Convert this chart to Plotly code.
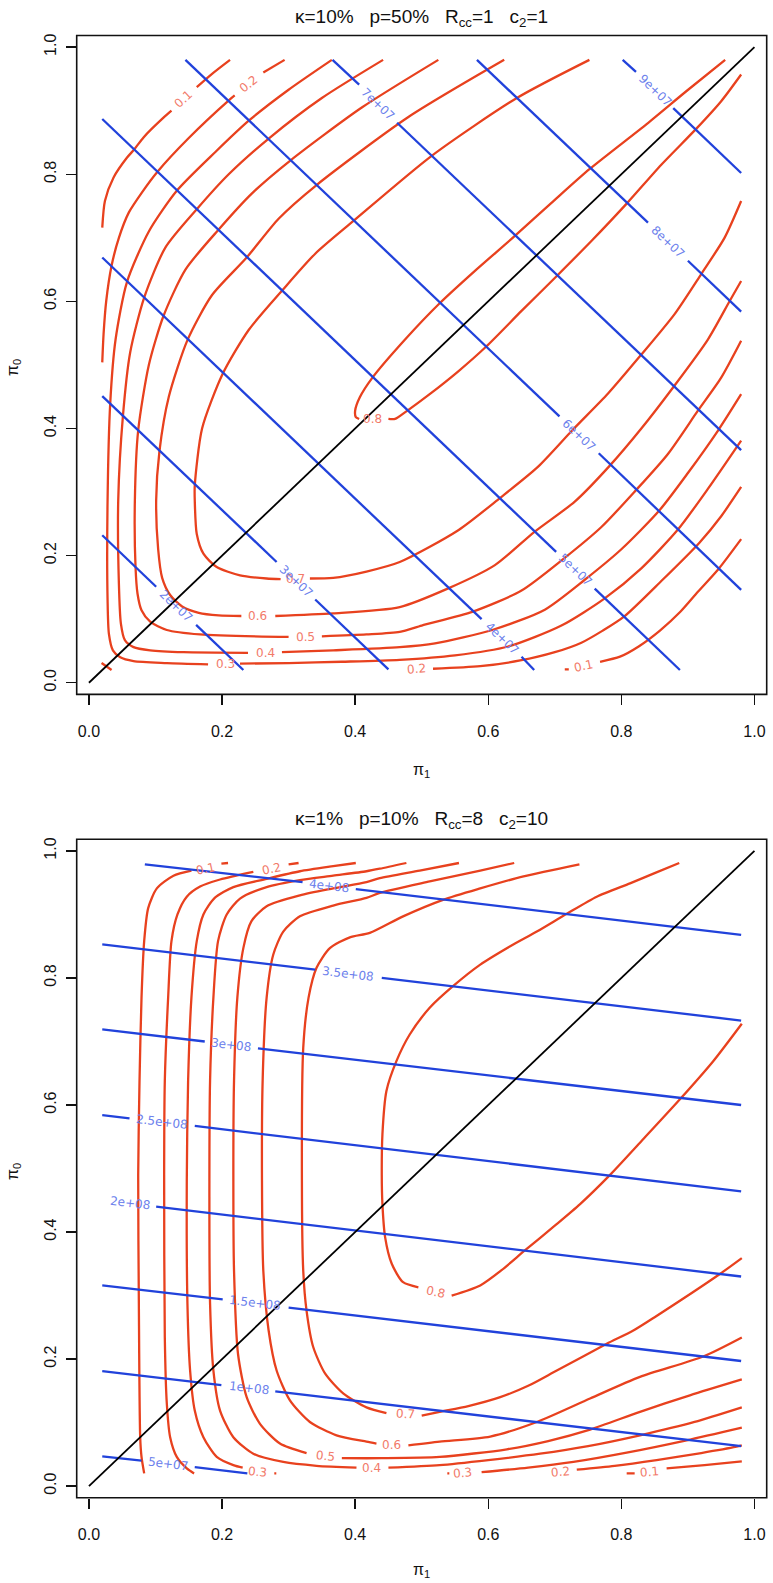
import plotly.graph_objects as go

# ---------------- data ----------------
TICKS = [0.0, 0.2, 0.4, 0.6, 0.8, 1.0]
TICK_TEXT = ["0.0", "0.2", "0.4", "0.6", "0.8", "1.0"]
DIAG_X = [0.0, 1.0]
DIAG_Y = [0.0, 1.0]

A_TITLE = "κ=10%\u00a0\u00a0\u00a0p=50%\u00a0\u00a0\u00a0R<sub>cc</sub>=1\u00a0\u00a0\u00a0c<sub>2</sub>=1"
B_TITLE = "κ=1%\u00a0\u00a0\u00a0p=10%\u00a0\u00a0\u00a0R<sub>cc</sub>=8\u00a0\u00a0\u00a0c<sub>2</sub>=10"
X_LABEL = "π<sub>1</sub>"
Y_LABEL = "π<sub>0</sub>"

# ---- panel A (top): red contour pieces (pi1, pi0) ----
A_RED_01 = [
    [(0.020, 0.716), (0.024, 0.758), (0.037, 0.795), (0.057, 0.826), (0.068, 0.839), (0.082, 0.858), (0.112, 0.889), (0.124, 0.900)],
    [(0.162, 0.937), (0.185, 0.958), (0.212, 0.980)],
    [(0.715, 0.021), (0.721, 0.021)],
    [(0.768, 0.033), (0.798, 0.041), (0.826, 0.057), (0.858, 0.082), (0.889, 0.112), (0.915, 0.143), (0.946, 0.179), (0.980, 0.226)],
]
A_RED_02 = [
    [(0.020, 0.504), (0.022, 0.549), (0.026, 0.601), (0.034, 0.656), (0.045, 0.700), (0.060, 0.740), (0.080, 0.772), (0.103, 0.804), (0.150, 0.857), (0.211, 0.917), (0.219, 0.924)],
    [(0.262, 0.960), (0.294, 0.980)],
    [(0.517, 0.022), (0.588, 0.026), (0.648, 0.035), (0.700, 0.048), (0.740, 0.063), (0.772, 0.082), (0.804, 0.104), (0.860, 0.160), (0.917, 0.220), (0.950, 0.262), (0.980, 0.308)],
]
A_RED_03 = [
    [(0.365, 0.980), (0.300, 0.933), (0.241, 0.885), (0.190, 0.835), (0.132, 0.774), (0.090, 0.710), (0.057, 0.630), (0.040, 0.540), (0.032, 0.440), (0.028, 0.287), (0.028, 0.130), (0.030, 0.077), (0.036, 0.051), (0.047, 0.040), (0.067, 0.034), (0.117, 0.031), (0.179, 0.029)],
    [(0.227, 0.030), (0.300, 0.031), (0.380, 0.033), (0.467, 0.036), (0.550, 0.043), (0.630, 0.057), (0.710, 0.090), (0.774, 0.132), (0.830, 0.180), (0.885, 0.241), (0.930, 0.305), (0.980, 0.381)],
    [(0.019, 0.031), (0.034, 0.020)],
]
A_RED_04 = [
    [(0.442, 0.980), (0.350, 0.920), (0.271, 0.857), (0.210, 0.800), (0.162, 0.745), (0.115, 0.685), (0.083, 0.606), (0.062, 0.520), (0.051, 0.419), (0.044, 0.287), (0.045, 0.156), (0.048, 0.093), (0.054, 0.067), (0.067, 0.056), (0.092, 0.051), (0.142, 0.048), (0.239, 0.047)],
    [(0.290, 0.048), (0.367, 0.051), (0.467, 0.056), (0.520, 0.062), (0.606, 0.083), (0.685, 0.115), (0.745, 0.162), (0.800, 0.210), (0.857, 0.271), (0.900, 0.330), (0.946, 0.398), (0.980, 0.454)],
]
A_RED_05 = [
    [(0.525, 0.980), (0.410, 0.905), (0.303, 0.822), (0.245, 0.770), (0.194, 0.712), (0.145, 0.650), (0.112, 0.577), (0.090, 0.500), (0.074, 0.397), (0.069, 0.287), (0.070, 0.182), (0.073, 0.140), (0.079, 0.114), (0.092, 0.096), (0.117, 0.083), (0.167, 0.076), (0.300, 0.072)],
    [(0.350, 0.073), (0.417, 0.076), (0.467, 0.080), (0.500, 0.090), (0.577, 0.112), (0.650, 0.145), (0.712, 0.194), (0.770, 0.245), (0.822, 0.303), (0.870, 0.360), (0.915, 0.428), (0.950, 0.480), (0.980, 0.538)],
]
A_RED_06 = [
    [(0.624, 0.980), (0.480, 0.890), (0.342, 0.783), (0.285, 0.730), (0.237, 0.669), (0.185, 0.610), (0.148, 0.539), (0.120, 0.450), (0.106, 0.365), (0.101, 0.287), (0.104, 0.210), (0.110, 0.165), (0.122, 0.138), (0.140, 0.120), (0.165, 0.110), (0.195, 0.106), (0.229, 0.105)],
    [(0.280, 0.105), (0.367, 0.109), (0.467, 0.119), (0.539, 0.148), (0.610, 0.185), (0.669, 0.237), (0.730, 0.285), (0.783, 0.342), (0.830, 0.400), (0.878, 0.465), (0.930, 0.540), (0.963, 0.601), (0.980, 0.632)],
]
A_RED_07 = [
    [(0.752, 0.980), (0.643, 0.920), (0.515, 0.829), (0.398, 0.727), (0.340, 0.675), (0.291, 0.618), (0.240, 0.555), (0.201, 0.486), (0.170, 0.400), (0.159, 0.310), (0.159, 0.287), (0.162, 0.234), (0.172, 0.203), (0.192, 0.182), (0.227, 0.169), (0.267, 0.164), (0.288, 0.163)],
    [(0.332, 0.164), (0.367, 0.165), (0.417, 0.175), (0.467, 0.190), (0.555, 0.240), (0.618, 0.291), (0.675, 0.340), (0.727, 0.398), (0.780, 0.455), (0.829, 0.515), (0.880, 0.580), (0.920, 0.643), (0.955, 0.700), (0.980, 0.758)],
]
A_RED_08 = [
    [(0.956, 0.980), (0.898, 0.931), (0.838, 0.879), (0.752, 0.808), (0.695, 0.755), (0.640, 0.703), (0.580, 0.648), (0.527, 0.597), (0.475, 0.540), (0.426, 0.480), (0.407, 0.449), (0.400, 0.428), (0.401, 0.418), (0.406, 0.415)],
    [(0.450, 0.415), (0.460, 0.415), (0.477, 0.427), (0.512, 0.454), (0.555, 0.490), (0.597, 0.529), (0.650, 0.585), (0.703, 0.640), (0.755, 0.695), (0.809, 0.755), (0.860, 0.815), (0.912, 0.871), (0.950, 0.915), (0.980, 0.957)],
]
A_RED_LABELS = [("0.1", 0.142, 0.918), ("0.2", 0.240, 0.942), ("0.1", 0.743, 0.026), ("0.2", 0.492, 0.021),
                 ("0.3", 0.205, 0.029), ("0.4", 0.265, 0.047), ("0.5", 0.325, 0.072), ("0.6", 0.254, 0.105),
                 ("0.7", 0.310, 0.163), ("0.8", 0.426, 0.415)]
A_RED_ANGLES = [-43, -38, -12, -4, 0, 0, -2, 0, 0, 0]

# ---- panel A blue contour pieces ----
A_BLUE_2E07 = [[(0.020, 0.232), (0.101, 0.151)], [(0.161, 0.091), (0.232, 0.020)]]
A_BLUE_3E07 = [[(0.020, 0.451), (0.282, 0.190)], [(0.340, 0.131), (0.450, 0.021)]]
A_BLUE_4E07 = [[(0.020, 0.669), (0.590, 0.100)], [(0.650, 0.041), (0.669, 0.020)]]
A_BLUE_5E07 = [[(0.020, 0.887), (0.702, 0.206)], [(0.760, 0.148), (0.888, 0.020)]]
A_BLUE_6E07 = [[(0.145, 0.980), (0.707, 0.419)], [(0.766, 0.361), (0.980, 0.146)]]
A_BLUE_7E07 = [[(0.366, 0.980), (0.406, 0.941)], [(0.463, 0.881), (0.980, 0.366)]]
A_BLUE_8E07 = [[(0.583, 0.980), (0.840, 0.724)], [(0.900, 0.664), (0.980, 0.584)]]
A_BLUE_9E07 = [[(0.802, 0.980), (0.822, 0.961)], [(0.878, 0.904), (0.980, 0.802)]]
A_BLUE_LABELS = [("2e+07", 0.131, 0.121), ("3e+07", 0.311, 0.160), ("4e+07", 0.620, 0.070), ("5e+07", 0.731, 0.177),
                 ("6e+07", 0.736, 0.390), ("7e+07", 0.434, 0.911), ("8e+07", 0.870, 0.694), ("9e+07", 0.850, 0.932)]
A_BLUE_ANGLE = 43.7

# ---- panel B (bottom): red contour pieces ----
B_RED_01 = [
    [(0.083, 0.020), (0.079, 0.046), (0.077, 0.077), (0.075, 0.287), (0.074, 0.490), (0.076, 0.638), (0.079, 0.769), (0.083, 0.858), (0.089, 0.910), (0.102, 0.941), (0.127, 0.961), (0.154, 0.969)],
    [(0.199, 0.980), (0.209, 0.981)],
    [(0.808, 0.020), (0.820, 0.020)],
    [(0.868, 0.028), (0.925, 0.033), (0.981, 0.039)],
]
B_RED_02 = [
    [(0.158, 0.020), (0.147, 0.028), (0.132, 0.046), (0.122, 0.077), (0.117, 0.130), (0.114, 0.234), (0.113, 0.490), (0.114, 0.638), (0.119, 0.769), (0.124, 0.858), (0.133, 0.900), (0.147, 0.928), (0.167, 0.944), (0.197, 0.955), (0.247, 0.967)],
    [(0.300, 0.979), (0.315, 0.981)],
    [(0.733, 0.026), (0.790, 0.032), (0.853, 0.041), (0.920, 0.052), (0.973, 0.062), (0.981, 0.064)],
]
B_RED_03 = [
    [(0.231, 0.029), (0.217, 0.033), (0.192, 0.046), (0.172, 0.077), (0.159, 0.119), (0.152, 0.182), (0.148, 0.287), (0.147, 0.481), (0.149, 0.638), (0.154, 0.769), (0.162, 0.858), (0.172, 0.900), (0.189, 0.926), (0.217, 0.943), (0.267, 0.956), (0.317, 0.968), (0.367, 0.976), (0.401, 0.981)],
    [(0.2785, 0.020), (0.2815, 0.020)],
    [(0.5385, 0.020), (0.5415, 0.020)],
    [(0.590, 0.022), (0.660, 0.029), (0.728, 0.038), (0.810, 0.053), (0.898, 0.072), (0.981, 0.092)],
]
B_RED_04 = [
    [(0.477, 0.981), (0.437, 0.972), (0.417, 0.968), (0.367, 0.961), (0.317, 0.954), (0.267, 0.943), (0.227, 0.925), (0.207, 0.900), (0.194, 0.858), (0.187, 0.769), (0.182, 0.638), (0.181, 0.481), (0.182, 0.287), (0.187, 0.182), (0.197, 0.119), (0.217, 0.077), (0.247, 0.051), (0.292, 0.038), (0.342, 0.032), (0.402, 0.029)],
    [(0.450, 0.029), (0.527, 0.033), (0.600, 0.041), (0.678, 0.051), (0.750, 0.063), (0.828, 0.080), (0.910, 0.101), (0.981, 0.124)],
]
B_RED_05 = [
    [(0.556, 0.981), (0.497, 0.969), (0.437, 0.957), (0.417, 0.951), (0.367, 0.941), (0.317, 0.930), (0.267, 0.913), (0.244, 0.889), (0.232, 0.847), (0.223, 0.769), (0.218, 0.638), (0.217, 0.481), (0.218, 0.339), (0.224, 0.208), (0.237, 0.140), (0.257, 0.098), (0.287, 0.067), (0.327, 0.052)],
    [(0.380, 0.044), (0.440, 0.044), (0.527, 0.046), (0.628, 0.058), (0.690, 0.071), (0.753, 0.089), (0.828, 0.117), (0.903, 0.143), (0.981, 0.168)],
]
B_RED_06 = [
    [(0.639, 0.981), (0.588, 0.969), (0.512, 0.952), (0.437, 0.934), (0.417, 0.926), (0.367, 0.914), (0.317, 0.897), (0.292, 0.873), (0.277, 0.837), (0.267, 0.769), (0.261, 0.638), (0.260, 0.481), (0.262, 0.339), (0.270, 0.245), (0.282, 0.182), (0.302, 0.135), (0.332, 0.101), (0.372, 0.080), (0.417, 0.070), (0.432, 0.067)],
    [(0.480, 0.064), (0.527, 0.070), (0.603, 0.078), (0.673, 0.101), (0.753, 0.138), (0.828, 0.172), (0.923, 0.204), (0.981, 0.234)],
]
B_RED_07 = [
    [(0.737, 0.979), (0.653, 0.960), (0.588, 0.941), (0.532, 0.923), (0.472, 0.897), (0.422, 0.871), (0.392, 0.864), (0.362, 0.847), (0.342, 0.816), (0.330, 0.769), (0.322, 0.690), (0.320, 0.481), (0.322, 0.339), (0.327, 0.276), (0.337, 0.219), (0.355, 0.177), (0.382, 0.146), (0.417, 0.124), (0.447, 0.115)],
    [(0.500, 0.111), (0.527, 0.117), (0.570, 0.126), (0.618, 0.140), (0.660, 0.158), (0.703, 0.182), (0.778, 0.224), (0.818, 0.245), (0.850, 0.266), (0.948, 0.334), (0.981, 0.359)],
]
B_RED_08 = [
    [(0.887, 0.981), (0.850, 0.965), (0.813, 0.949), (0.763, 0.928), (0.718, 0.901), (0.673, 0.873), (0.633, 0.850), (0.588, 0.821), (0.547, 0.787), (0.512, 0.753), (0.482, 0.711), (0.462, 0.669), (0.447, 0.622), (0.441, 0.554), (0.440, 0.490), (0.441, 0.444), (0.445, 0.392), (0.455, 0.350), (0.472, 0.321), (0.495, 0.313)],
    [(0.545, 0.300), (0.588, 0.316), (0.620, 0.340), (0.655, 0.371), (0.700, 0.410), (0.738, 0.444), (0.783, 0.490), (0.830, 0.543), (0.888, 0.609), (0.938, 0.669), (0.981, 0.728)],
]
B_RED_LABELS = [("0.1", 0.175, 0.972), ("0.2", 0.274, 0.972), ("0.3", 0.254, 0.022), ("0.3", 0.561, 0.021),
                ("0.4", 0.425, 0.029), ("0.5", 0.355, 0.048), ("0.6", 0.455, 0.064), ("0.7", 0.475, 0.113),
                ("0.8", 0.520, 0.305), ("0.2", 0.708, 0.022), ("0.1", 0.843, 0.022)]
B_RED_ANGLES = [-12, -12, 5, -5, 0, 6, 0, 3, 12, -5, -5]

# ---- panel B blue contour pieces ----
B_BLUE_5E07 = [[(0.020, 0.047), (0.079, 0.040)], [(0.159, 0.030), (0.238, 0.020)]]
B_BLUE_1E08 = [[(0.020, 0.181), (0.199, 0.159)], [(0.280, 0.149), (0.980, 0.063)]]
B_BLUE_15E08 = [[(0.020, 0.316), (0.201, 0.294)], [(0.300, 0.281), (0.980, 0.197)]]
B_BLUE_2E08 = [[(0.101, 0.440), (0.980, 0.330)]]
B_BLUE_25E08 = [[(0.020, 0.584), (0.061, 0.579)], [(0.159, 0.567), (0.980, 0.464)]]
B_BLUE_3E08 = [[(0.020, 0.719), (0.174, 0.700)], [(0.254, 0.689), (0.980, 0.600)]]
B_BLUE_35E08 = [[(0.020, 0.853), (0.340, 0.813)], [(0.440, 0.800), (0.980, 0.733)]]
B_BLUE_4E08 = [[(0.084, 0.979), (0.321, 0.951)], [(0.401, 0.940), (0.980, 0.868)]]
B_BLUE_LABELS = [("5e+07", 0.119, 0.035), ("1e+08", 0.240, 0.154), ("1.5e+08", 0.250, 0.288), ("2e+08", 0.061, 0.445),
                 ("2.5e+08", 0.110, 0.573), ("3e+08", 0.214, 0.694), ("3.5e+08", 0.390, 0.806), ("4e+08", 0.361, 0.945)]
B_BLUE_ANGLE = 6.8

# ---------------- styling ----------------
W, H = 773, 1583
RED = "#e8411e"
RED_TXT = "#f27a6a"
BLUE = "#2142db"
BLUE_TXT = "#6b80ec"
AX_RANGE = [-0.0184, 1.0184]
X_DOM = [76.7 / W, 766.7 / W]
A_YDOM = [1 - 693.3 / H, 1 - 33.5 / H]
B_YDOM = [1 - 1497.7 / H, 1 - 838.3 / H]
TICK_FONT = dict(family="Liberation Sans, Arial, sans-serif", size=16, color="#111")
LBL_FONT = "DejaVu Sans, sans-serif"


def flatten(groups):
    xs, ys = [], []
    for pieces in groups:
        for piece in pieces:
            for px, py in piece:
                xs.append(px)
                ys.append(py)
            xs.append(None)
            ys.append(None)
    return xs, ys


fig = go.Figure()
panels = [
    ("x", "y", [A_RED_01, A_RED_02, A_RED_03, A_RED_04, A_RED_05, A_RED_06, A_RED_07, A_RED_08],
     [A_BLUE_2E07, A_BLUE_3E07, A_BLUE_4E07, A_BLUE_5E07, A_BLUE_6E07, A_BLUE_7E07, A_BLUE_8E07, A_BLUE_9E07]),
    ("x2", "y2", [B_RED_01, B_RED_02, B_RED_03, B_RED_04, B_RED_05, B_RED_06, B_RED_07, B_RED_08],
     [B_BLUE_5E07, B_BLUE_1E08, B_BLUE_15E08, B_BLUE_2E08, B_BLUE_25E08, B_BLUE_3E08, B_BLUE_35E08, B_BLUE_4E08]),
]
for xa, ya, reds, blues in panels:
    rx, ry = flatten(reds)
    fig.add_trace(go.Scatter(x=rx, y=ry, mode="lines",
                             line=dict(color=RED, width=2.3, shape="spline", smoothing=0.7),
                             xaxis=xa, yaxis=ya, hoverinfo="skip", showlegend=False))
    bx, by = flatten(blues)
    fig.add_trace(go.Scatter(x=bx, y=by, mode="lines", line=dict(color=BLUE, width=2.3),
                             xaxis=xa, yaxis=ya, hoverinfo="skip", showlegend=False))
    fig.add_trace(go.Scatter(x=DIAG_X, y=DIAG_Y, mode="lines", line=dict(color="black", width=1.8),
                             xaxis=xa, yaxis=ya, hoverinfo="skip", showlegend=False))

annotations = []


def add_labels(labels, angles, color, xa, ya):
    for (txt, lx, ly), ang in zip(labels, angles):
        annotations.append(dict(text=txt, x=lx, y=ly, xref=xa, yref=ya, showarrow=False,
                                textangle=ang, font=dict(family=LBL_FONT, size=12, color=color),
                                xanchor="center", yanchor="middle"))


add_labels(A_RED_LABELS, A_RED_ANGLES, RED_TXT, "x", "y")
add_labels(A_BLUE_LABELS, [A_BLUE_ANGLE] * len(A_BLUE_LABELS), BLUE_TXT, "x", "y")
add_labels(B_RED_LABELS, B_RED_ANGLES, RED_TXT, "x2", "y2")
add_labels(B_BLUE_LABELS, [B_BLUE_ANGLE] * len(B_BLUE_LABELS), BLUE_TXT, "x2", "y2")

TITLE_FONT = dict(family="Liberation Sans, Arial, sans-serif", size=19, color="#111")
AXT_FONT = dict(family="Liberation Sans, Arial, sans-serif", size=16, color="#111")
xc = (X_DOM[0] + X_DOM[1]) / 2
for title, ty, xl_y, yl_y in [(A_TITLE, 16, 769, 366), (B_TITLE, 819, 1570, 1171)]:
    annotations.append(dict(text=title, x=xc, y=1 - ty / H, xref="paper", yref="paper", showarrow=False,
                            font=TITLE_FONT, xanchor="center", yanchor="middle"))
    annotations.append(dict(text=X_LABEL, x=xc, y=1 - xl_y / H, xref="paper", yref="paper", showarrow=False,
                            font=AXT_FONT, xanchor="center", yanchor="middle"))
    annotations.append(dict(text=Y_LABEL, x=13.5 / W, y=1 - yl_y / H, xref="paper", yref="paper", showarrow=False,
                            font=AXT_FONT, xanchor="center", yanchor="middle", textangle=-90))

axis_common = dict(range=AX_RANGE, tickvals=TICKS, ticktext=TICK_TEXT, ticks="outside", ticklen=10,
                   tickwidth=1.5, tickcolor="#111", showgrid=False, zeroline=False, showline=False,
                   tickfont=TICK_FONT, fixedrange=True, ticklabeloverflow="allow")

fig.update_layout(
    width=W, height=H, margin=dict(l=0, r=0, t=0, b=0),
    paper_bgcolor="white", plot_bgcolor="white", showlegend=False,
    xaxis=dict(domain=X_DOM, anchor="y", ticklabelstandoff=12, **axis_common),
    yaxis=dict(domain=A_YDOM, anchor="x", tickangle=-90, ticklabelstandoff=3, **axis_common),
    xaxis2=dict(domain=X_DOM, anchor="y2", ticklabelstandoff=12, **axis_common),
    yaxis2=dict(domain=B_YDOM, anchor="x2", tickangle=-90, ticklabelstandoff=3, **axis_common),
    annotations=annotations,
    shapes=[
        dict(type="rect", xref="x domain", yref="y domain", x0=0, x1=1, y0=0, y1=1,
             line=dict(color="#111", width=1.6), layer="above"),
        dict(type="rect", xref="x2 domain", yref="y2 domain", x0=0, x1=1, y0=0, y1=1,
             line=dict(color="#111", width=1.6), layer="above"),
    ],
)

fig.write_html(
    "out.html",
    config={"displayModeBar": False, "staticPlot": True},
    post_script="document.body.style.margin='0px';document.body.style.padding='0px';"
                "document.body.style.overflow='hidden';",
)
